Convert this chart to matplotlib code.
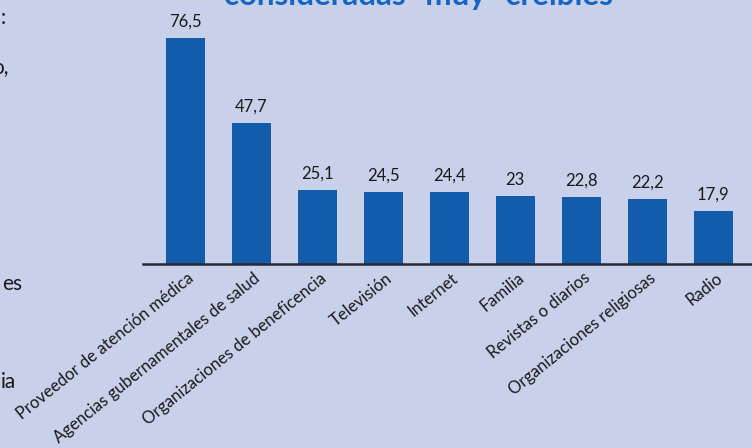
import matplotlib
matplotlib.use("Agg")
import matplotlib.pyplot as plt
import matplotlib.transforms as mtransforms

# Datos: fuentes de información consideradas "muy" creíbles (%)
fuentes = [
    "Proveedor de atención médica",
    "Agencias gubernamentales de salud",
    "Organizaciones de beneficencia",
    "Televisión",
    "Internet",
    "Familia",
    "Revistas o diarios",
    "Organizaciones religiosas",
    "Radio",
]
valores = [76.5, 47.7, 25.1, 24.5, 24.4, 23, 22.8, 22.2, 17.9]
etiquetas_valor = ["76,5", "47,7", "25,1", "24,5", "24,4", "23", "22,8", "22,2", "17,9"]

FONDO = "#C8D0EA"
AZUL_BARRA = "#135CAB"
AZUL_TITULO = "#1466C4"

plt.rcParams["font.family"] = ["Lato", "DejaVu Sans"]

fig = plt.figure(figsize=(7.52, 4.48), dpi=100, facecolor=FONDO)
ax = fig.add_axes([143 / 752, 184 / 448, 609 / 752, 236 / 448])
ax.set_facecolor(FONDO)

x = list(range(len(fuentes)))
ax.bar(x, valores, width=0.59, color=AZUL_BARRA, zorder=2)

for xi, v, t in zip(x, valores, etiquetas_valor):
    ax.annotate(t, (xi, v), xytext=(0, 6), textcoords="offset points",
                ha="center", va="bottom", fontsize=12, color="#1a1a1a")

ax.set_xlim(-0.64, 8.59)
ax.set_ylim(0, 80)
ax.set_yticks([])
ax.set_xticks(x)
ax.set_xticklabels([])
ax.tick_params(axis="x", length=0)
for lado in ["top", "right", "left"]:
    ax.spines[lado].set_visible(False)
ax.spines["bottom"].set_linewidth(1.8)
ax.spines["bottom"].set_color("#2a2a33")

# etiquetas de categorías giradas
desplaz = mtransforms.offset_copy(ax.get_xaxis_transform(), fig=fig, x=7, y=-12, units="dots")
for xi, nombre in zip(x, fuentes):
    ax.text(xi, 0, nombre, transform=desplaz, rotation=39, rotation_mode="anchor",
            ha="right", va="center", fontsize=12, color="#1a1a1a")

# título cortado en la parte superior
fig.text(0.556, 1 - 5 / 448, "consideradas \u201cmuy\u201d creíbles", ha="center", va="baseline",
         fontsize=22.5, fontweight="bold", color=AZUL_TITULO)

# fragmentos de texto cortados a la izquierda
for texto, xp, yp in [(":", 6, 18), ("o,", 9, 67), ("es", 22, 284), ("ia", 16, 382)]:
    fig.text(xp / 752, 1 - yp / 448, texto, ha="right", va="center",
             fontsize=15, color="#1a1a1a")

fig.savefig("out.png", dpi=100, facecolor=FONDO)
